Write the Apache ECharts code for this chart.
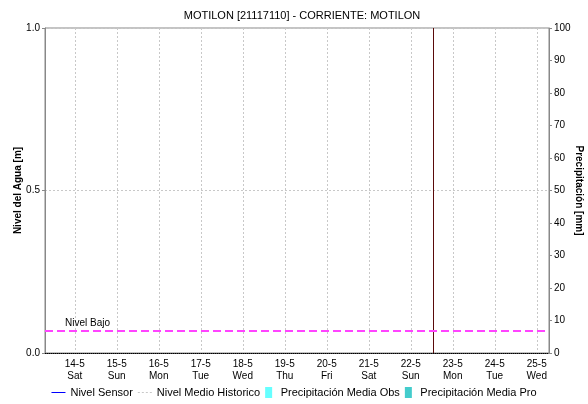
<!DOCTYPE html>
<html>
<head>
<meta charset="utf-8">
<script src="https://cdn.jsdelivr.net/npm/echarts@6/dist/echarts.min.js"></script>
<style>
  html, body { margin: 0; padding: 0; background: #fff; }
  #chart { width: 588px; height: 404px; }
</style>
</head>
<body>
<div id="chart"></div>
<script>
// rango del eje x y marcas
var rangoInicio = "2022-05-13T07:00:00";
var rangoFin = "2022-05-25T07:00:00";
var horaActual = "2022-05-22T12:40:00";
var nivelBajo = 0.07;

// series (sin datos en el periodo)
var nivelSensor = [];
var nivelMedioHistorico = [];
var diasPrecip = [];
var precipObs = [];
var precipPro = [];

var dias = ["Sun", "Mon", "Tue", "Wed", "Thu", "Fri", "Sat"];
var fuente = "Liberation Sans";

// iconos de la leyenda
var iconoLinea = "path://M0,0h14v1h-14z";
var iconoGuiones = "path://M0,0h2v1h-2z M4,0h2v1h-2z M8,0h2v1h-2z M12,0h2v1h-2z";
var iconoCaja = "path://M0,0h7v11h-7z";

var chart = echarts.init(document.getElementById("chart"));

var option = {
  animation: false,
  textStyle: { fontFamily: fuente },
  title: {
    text: "MOTILON [21117110] - CORRIENTE: MOTILON",
    left: 297,
    textAlign: "center",
    top: 5,
    textStyle: { fontSize: 11, fontWeight: "normal", color: "#000", fontFamily: fuente }
  },
  grid: {
    left: 45, right: 39, top: 28, bottom: 51,
    outerBoundsMode: "none",
    containLabel: false,
    show: true, borderColor: "#888", borderWidth: 1, backgroundColor: "#fff"
  },
  legend: {
    top: 387,
    left: "center",
    padding: 0,
    itemGap: 5,
    itemWidth: 14,
    itemHeight: 11,
    textStyle: { fontSize: 11, color: "#000", fontFamily: fuente },
    data: [
      { name: "Nivel Sensor", icon: iconoLinea,
        itemStyle: { color: "#0000ff" }, lineStyle: { color: "#0000ff", width: 0 } },
      { name: "Nivel Medio Historico", icon: iconoGuiones, itemStyle: { color: "#c8c8c8" } },
      { name: "Precipitación Media Obs", icon: iconoCaja, itemStyle: { color: "#66ffff" } },
      { name: "Precipitación Media Pro", icon: iconoCaja, itemStyle: { color: "#44cccc" } }
    ]
  },
  xAxis: [
    {
      type: "time",
      min: new Date(rangoInicio).getTime(),
      max: new Date(rangoFin).getTime(),
      minInterval: 86400000,
      maxInterval: 86400000,
      axisLine: { lineStyle: { color: "#000", type: [1, 1], width: 1 } },
      axisTick: { show: false },
      axisLabel: {
        color: "#000",
        fontSize: 10,
        lineHeight: 12,
        margin: 5,
        hideOverlap: false,
        formatter: function (v) {
          var d = new Date(v);
          return d.getDate() + "-" + (d.getMonth() + 1) + "\n" + dias[d.getDay()];
        }
      },
      splitLine: { show: true, lineStyle: { color: "#c8c8c8", type: [2, 2] } }
    },
    {
      // eje auxiliar para las barras de precipitación
      type: "category",
      show: false,
      data: diasPrecip
    }
  ],
  yAxis: [
    {
      type: "value",
      min: 0, max: 1, interval: 0.5,
      name: "Nivel del Agua [m]",
      nameLocation: "middle",
      nameGap: 22,
      nameMoveOverlap: false,
      nameTextStyle: { fontSize: 10, fontWeight: "bold", color: "#000" },
      axisLine: { show: true, lineStyle: { color: "#888" } },
      axisTick: { show: true, length: 3, lineStyle: { color: "#888" } },
      axisLabel: {
        color: "#000", fontSize: 10, margin: 5,
        formatter: function (v) { return v.toFixed(1); }
      },
      splitLine: { show: true, lineStyle: { color: "#c8c8c8", type: [2, 2] } }
    },
    {
      type: "value",
      min: 0, max: 100, interval: 10,
      position: "right",
      name: "Precipitación [mm]",
      nameLocation: "middle",
      nameRotate: -90,
      nameGap: 25,
      nameMoveOverlap: false,
      nameTextStyle: { fontSize: 10, fontWeight: "bold", color: "#000" },
      axisLine: { show: true, lineStyle: { color: "#888" } },
      axisTick: { show: true, length: 3, lineStyle: { color: "#888" } },
      axisLabel: { color: "#000", fontSize: 10, margin: 5 },
      splitLine: { show: false }
    }
  ],
  series: [
    {
      name: "Nivel Sensor",
      type: "line",
      symbol: "none",
      color: "#0000ff",
      lineStyle: { color: "#0000ff", width: 1 },
      data: nivelSensor,
      markLine: {
        silent: true,
        symbol: "none",
        label: { show: false },
        lineStyle: { color: "#5a0a0a", type: "solid", width: 1 },
        data: [{ xAxis: new Date(horaActual).getTime() }]
      }
    },
    {
      name: "Nivel Medio Historico",
      type: "line",
      symbol: "none",
      color: "#c8c8c8",
      lineStyle: { color: "#c8c8c8", type: [3, 3], width: 2 },
      data: nivelMedioHistorico,
      markLine: {
        silent: true,
        symbol: "none",
        lineStyle: { color: "#ff44ff", type: [8, 4], width: 2 },
        label: {
          show: true,
          position: "insideStartTop",
          formatter: "Nivel Bajo",
          fontSize: 10,
          color: "#000",
          distance: [20, 2]
        },
        data: [{ yAxis: nivelBajo }]
      }
    },
    {
      name: "Precipitación Media Obs",
      type: "bar",
      xAxisIndex: 1,
      yAxisIndex: 1,
      color: "#66ffff",
      data: precipObs
    },
    {
      name: "Precipitación Media Pro",
      type: "bar",
      xAxisIndex: 1,
      yAxisIndex: 1,
      color: "#44cccc",
      data: precipPro
    }
  ]
};

chart.setOption(option);
</script>
</body>
</html>
